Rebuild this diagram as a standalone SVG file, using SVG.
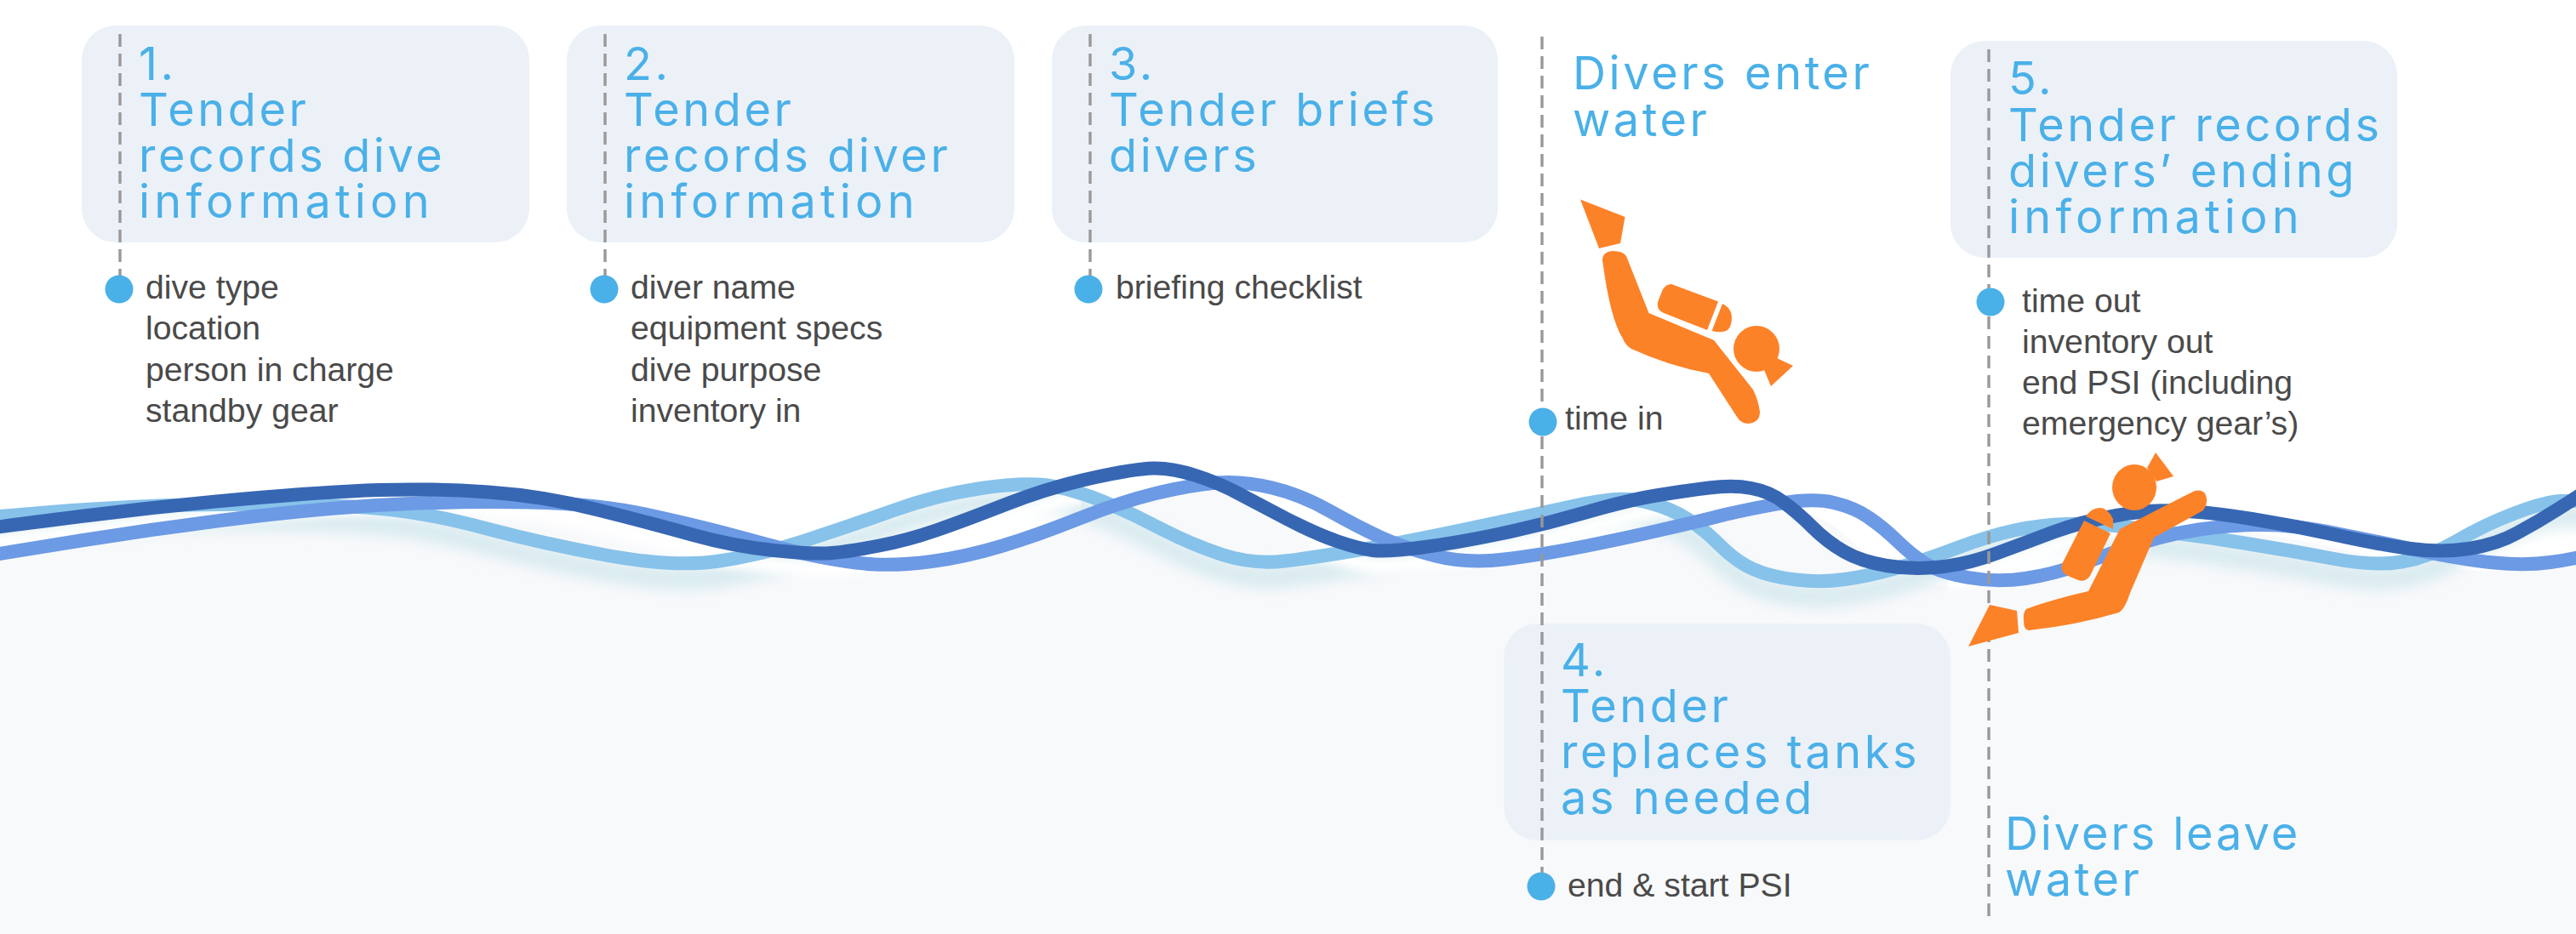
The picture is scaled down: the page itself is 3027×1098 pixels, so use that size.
<svg xmlns="http://www.w3.org/2000/svg" width="3027" height="1098" viewBox="0 0 3027 1098">
<style>
.box{fill:#ecf1f8}
.h{font-family:"Inter","Noto Sans",sans-serif;font-weight:400;font-size:54px;letter-spacing:3.6px;fill:#4ab0e8}
.w{letter-spacing:5.2px}
.n{letter-spacing:2.9px}
.b{font-family:"Liberation Sans",Arial,sans-serif;font-size:39.2px;fill:#4a4a4a}
.dot{fill:#4ab0e8}
.dash{stroke:#999;stroke-width:3.4;stroke-dasharray:15 8;fill:none}
.wave{fill:none;stroke-width:16}
.or{fill:#fc8228}
</style>
<defs>
<filter id="blur" x="-5%" y="-100%" width="110%" height="300%"><feGaussianBlur stdDeviation="8"/></filter>
<filter id="blur2" x="-5%" y="-100%" width="110%" height="300%"><feGaussianBlur stdDeviation="6"/></filter>
<clipPath id="gl"><rect x="-20" y="500" width="1290" height="300"/><rect x="1540" y="500" width="420" height="300"/><rect x="2290" y="500" width="260" height="300"/></clipPath>
<path id="wL" d="M-20,609 Q0,607 60,602 Q120,597 187,594.5 Q255,592 334,593 Q414,594 462,599.5 Q510,605 574,622 Q638,639 714,653 Q791,667 842,660 Q893,653 946,635.5 Q1000,618 1050,600 Q1100,582 1153,574 Q1207,566 1237,571.5 Q1267,577 1300,591 Q1333,605 1366,622.5 Q1400,640 1436,652 Q1473,664 1510,659.5 Q1547,655 1597,646.5 Q1647,638 1730,620.5 Q1813,603 1846,595.5 Q1880,588 1900,587 Q1920,586 1941,592 Q1963,598 1981,609 Q2000,620 2020,640 Q2040,660 2060,669 Q2080,678 2110,681.5 Q2140,685 2168,681 Q2197,677 2230,667.5 Q2263,658 2300,644 Q2337,630 2367,623.5 Q2397,617 2430,616 Q2463,615 2495,619 Q2527,623 2562,627.5 Q2597,632 2646,640 Q2696,648 2743,657 Q2790,666 2822,660.5 Q2855,655 2887,636 Q2919,617 2956,603 Q2993,589 3010,589 Q3027,589 3050,589"/>
<path id="wD" d="M-20,622 Q0,619 95,607 Q191,595 287,586.5 Q383,578 446,576 Q510,574 574,578.5 Q638,583 701,599 Q765,615 813,628.5 Q861,642 909,647 Q957,652 978,650 Q1000,648 1033,641.5 Q1067,635 1100,623.5 Q1133,612 1183,592.5 Q1233,573 1283,562 Q1333,551 1355,550.5 Q1377,550 1405,559 Q1433,568 1456,580.5 Q1480,593 1513,610.5 Q1547,628 1572,636.5 Q1597,645 1613,647 Q1630,649 1671,643.5 Q1713,638 1763,627.5 Q1813,617 1863,602.5 Q1913,588 1946,582.5 Q1980,577 2008,573.5 Q2037,570 2058,574 Q2080,578 2096,590.5 Q2113,603 2130,620 Q2147,637 2167,648.5 Q2187,660 2217,665 Q2247,670 2280,666.5 Q2313,663 2346,650.5 Q2380,638 2413,625.5 Q2447,613 2487,606 Q2527,599 2562,600.5 Q2597,602 2646,610 Q2696,618 2745,629 Q2795,640 2832,645 Q2869,650 2901,645 Q2934,640 2958,626.5 Q2983,613 3005,599 Q3027,585 3050,570"/>
<path id="wB" d="M-20,654 Q0,651 95,635.5 Q191,620 287,608.5 Q383,597 462,593 Q542,589 622,590.5 Q702,592 765,606 Q829,620 877,633.5 Q925,647 962,654.5 Q1000,662 1028,663.5 Q1057,665 1095,660 Q1133,655 1175,642.5 Q1217,630 1267,610 Q1317,590 1358,580 Q1400,570 1430,567.5 Q1460,565 1495,573.5 Q1530,582 1563,601 Q1597,620 1622,631.5 Q1647,643 1685,653 Q1723,663 1768,657.5 Q1813,652 1863,642 Q1913,632 1956,622 Q2000,612 2023,606 Q2047,600 2088,592.5 Q2130,585 2155,591 Q2180,597 2196,608.5 Q2213,620 2230,636.5 Q2247,653 2263,663 Q2280,673 2313,679 Q2347,685 2380,680 Q2413,675 2443,664 Q2473,653 2510,640.5 Q2547,628 2584,622.5 Q2622,617 2659,617 Q2696,617 2745,627 Q2795,637 2844,647.5 Q2894,658 2931,661.5 Q2968,665 2997,661 Q3027,657 3050,650"/>
</defs>
<rect width="3027" height="1098" fill="#fff"/>
<g id="water">
<path transform="translate(-45,8)" fill="#f8f9fb" d="M-20,654 Q0,651 95,635.5 Q191,620 287,608.5 Q383,597 462,593 Q542,589 622,590.5 Q702,592 765,606 Q829,620 877,633.5 Q925,647 962,654.5 Q1000,662 1028,663.5 Q1057,665 1095,660 Q1133,655 1175,642.5 Q1217,630 1267,610 Q1317,590 1358,580 Q1400,570 1430,567.5 Q1460,565 1495,573.5 Q1530,582 1563,601 Q1597,620 1622,631.5 Q1647,643 1685,653 Q1723,663 1768,657.5 Q1813,652 1863,642 Q1913,632 1956,622 Q2000,612 2023,606 Q2047,600 2088,592.5 Q2130,585 2155,591 Q2180,597 2196,608.5 Q2213,620 2230,636.5 Q2247,653 2263,663 Q2280,673 2313,679 Q2347,685 2380,680 Q2413,675 2443,664 Q2473,653 2510,640.5 Q2547,628 2584,622.5 Q2622,617 2659,617 Q2696,617 2745,627 Q2795,637 2844,647.5 Q2894,658 2931,661.5 Q2968,665 2997,661 Q3027,657 3050,650 L3100,650 L3100,1120 L-100,1120 Z"/>
<use href="#wL" transform="translate(0,18)" fill="none" stroke="#d9ebf0" stroke-width="26" filter="url(#blur)"/>
<g clip-path="url(#gl)"><use href="#wD" transform="translate(0,18)" fill="none" stroke="#fff" stroke-width="20" filter="url(#blur2)"/></g>
<use href="#wL" class="wave" stroke="#87c2ea"/>
<use href="#wB" class="wave" stroke="#6c9ae4"/>
<use href="#wD" class="wave" stroke="#3767b3"/>
</g>
<g id="node1">
<rect class="box" x="96" y="30" width="526" height="255" rx="40"/>
<text class="h"><tspan x="163" y="94">1.</tspan><tspan x="163" y="148">Tender</tspan><tspan x="163" y="202">records dive</tspan><tspan class="w" x="163" y="256">information</tspan></text>
<circle class="dot" cx="140" cy="340" r="16.5"/>
<text class="b"><tspan x="171" y="351">dive type</tspan><tspan x="171" y="399">location</tspan><tspan x="171" y="448">person in charge</tspan><tspan x="171" y="496">standby gear</tspan></text>
</g>
<g id="node2">
<rect class="box" x="666" y="30" width="526" height="255" rx="40"/>
<text class="h"><tspan x="733" y="94">2.</tspan><tspan x="733" y="148">Tender</tspan><tspan x="733" y="202">records diver</tspan><tspan class="w" x="733" y="256">information</tspan></text>
<circle class="dot" cx="710" cy="340" r="16.5"/>
<text class="b"><tspan x="741" y="351">diver name</tspan><tspan x="741" y="399">equipment specs</tspan><tspan x="741" y="448">dive purpose</tspan><tspan x="741" y="496">inventory in</tspan></text>
</g>
<g id="node3">
<rect class="box" x="1236" y="30" width="524" height="255" rx="40"/>
<text class="h"><tspan x="1303" y="94">3.</tspan><tspan x="1303" y="148">Tender briefs</tspan><tspan x="1303" y="202">divers</tspan></text>
<circle class="dot" cx="1279" cy="340" r="16.5"/>
<text class="b"><tspan x="1311" y="351">briefing checklist</tspan></text>
</g>
<g id="enter">
<text class="h"><tspan x="1848" y="105">Divers enter</tspan><tspan x="1848" y="160">water</tspan></text>
<circle class="dot" cx="1813" cy="496" r="16.5"/>
<text class="b" x="1839" y="505">time in</text>
</g>
<g id="node5">
<rect class="box" x="2292" y="48" width="525" height="255" rx="40"/>
<text class="h"><tspan x="2360" y="111">5.</tspan><tspan x="2360" y="166">Tender records</tspan><tspan x="2360" y="220">divers’ ending</tspan><tspan class="w" x="2360" y="274">information</tspan></text>
<circle class="dot" cx="2339" cy="355" r="16.5"/>
<text class="b"><tspan x="2376" y="367">time out</tspan><tspan x="2376" y="415">inventory out</tspan><tspan x="2376" y="463">end PSI (including</tspan><tspan x="2376" y="511">emergency gear’s)</tspan></text>
</g>
<g id="node4">
<rect class="box" x="1767" y="733" width="525" height="255" rx="40"/>
<text class="h"><tspan x="1834" y="795">4.</tspan><tspan x="1834" y="849">Tender</tspan><tspan x="1834" y="903">replaces tanks</tspan><tspan x="1834" y="957">as needed</tspan></text>
<circle class="dot" cx="1811" cy="1042" r="16.5"/>
<text class="b" x="1842" y="1054">end &amp; start PSI</text>
</g>
<g id="leave">
<text class="h"><tspan class="n" x="2356" y="999">Divers leave</tspan><tspan x="2356" y="1053">water</tspan></text>
</g>
<g id="connectors">
<path class="dash" d="M141,40V324"/>
<path class="dash" d="M711,40V324"/>
<path class="dash" d="M1281,40V324"/>
<path class="dash" d="M1812,43V480M1812,513V1026"/>
<path class="dash" d="M2337,58V339M2337,372V1078"/>
</g>
<g id="diver-enter" class="or">
<path d="M1857,234.5L1909.5,255L1904,286L1879,292Z"/>
<path d="M1895,295Q1883,296 1883,306Q1892,375 1907,398Q1910,406 1917,410Q1960,430 2008,439L2041,490Q2046,498 2054,498Q2068,497 2068,484Q2066,470 2060,458L2014,400L1937.5,368L1911,301Q1907,295 1895,295Z"/>
<path d="M1964,334Q1958,334 1954,340L1948,355Q1946,364 1955,368L2006,388L2019,354.5Z"/>
<path d="M2024,357Q2034,362 2035,372Q2035,384 2030,388Q2024,392 2011.5,389Z"/>
<circle cx="2064" cy="410" r="27"/>
<path d="M2088,421L2107,430L2081,454L2073,435Z"/>
</g>
<g id="diver-leave" class="or">
<ellipse cx="2508" cy="573" rx="26" ry="27"/>
<path d="M2523,550L2533,532L2554,560L2534,566Z"/>
<path d="M2579,577Q2587,575 2591,580Q2596,590 2589,600L2531,632L2503,697Q2497,716 2490,720Q2440,735 2384,741Q2378,741 2378,730Q2377,720 2381,716Q2410,705 2454,695L2491,622L2567,583Z"/>
<path d="M2449,612L2480,627L2456,677Q2450,685 2442,682L2430,677Q2420,672 2423,663Z"/>
<path d="M2451,607Q2458,597 2467,597Q2477,597 2483,610L2483,622Z"/>
<path d="M2338,711L2370,718L2372,744L2313,760Z"/>
</g>
</svg>
